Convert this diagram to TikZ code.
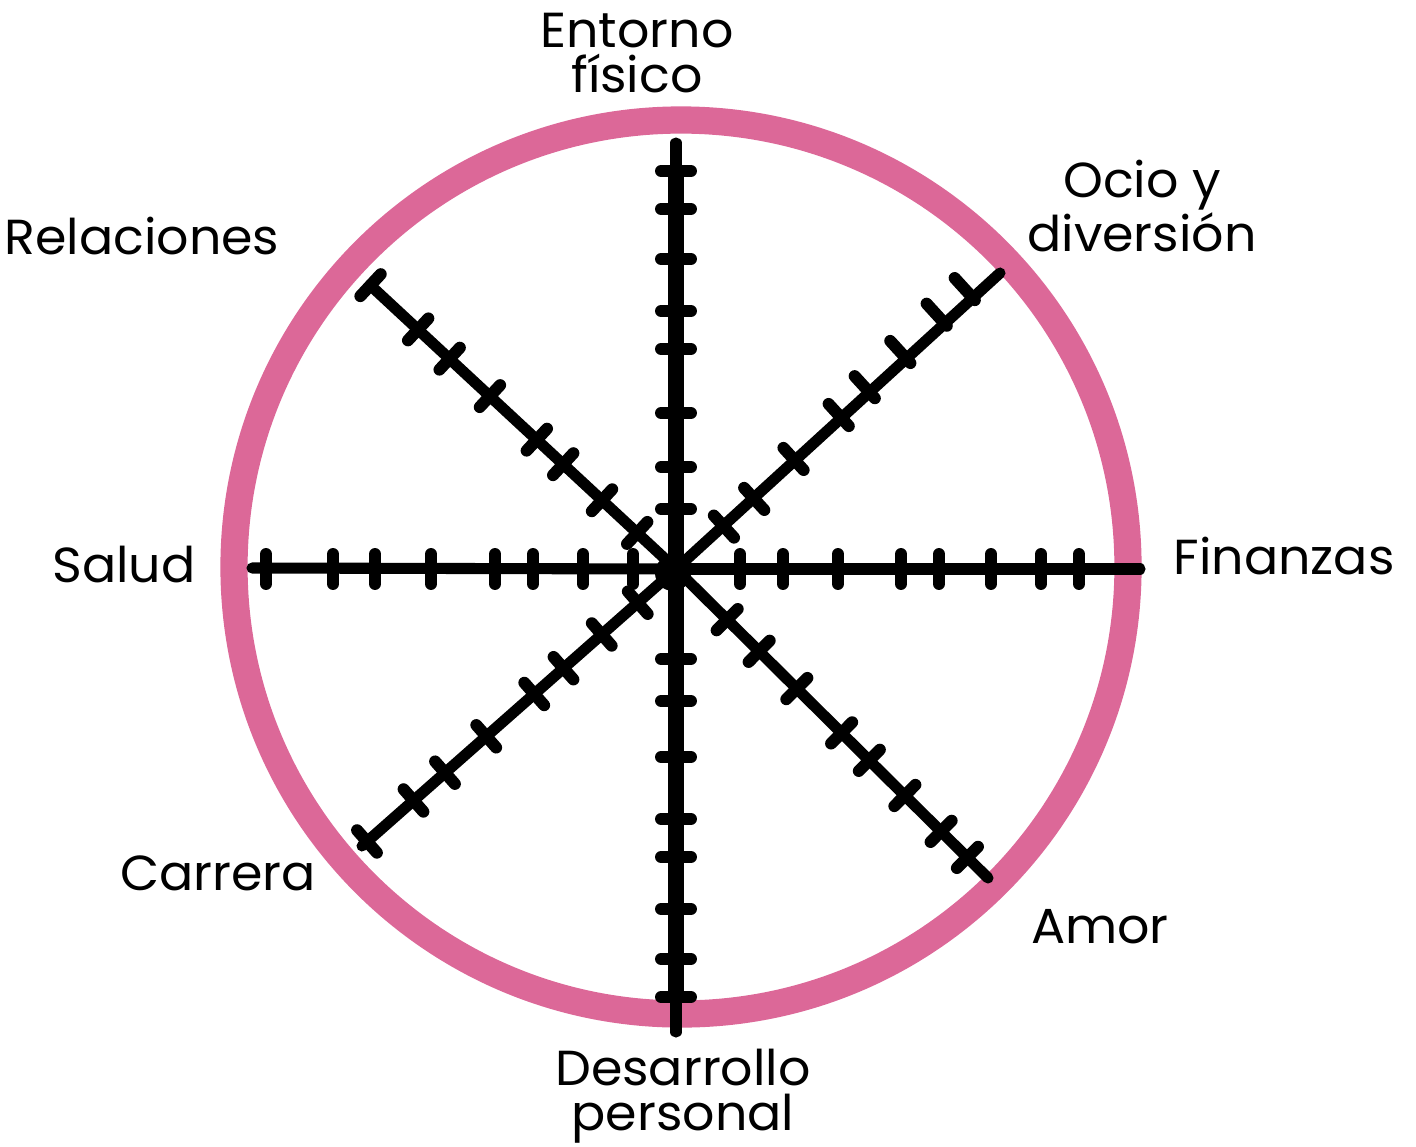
\documentclass[tikz,border=0pt]{standalone}
\usepackage{fontspec}
\setmainfont{Poppins}[FakeStretch=1.03]
\usetikzlibrary{positioning}
\definecolor{wheelpink}{RGB}{220,104,152}

\tikzset{
  ring/.style={draw=wheelpink, line width=15.5pt},
  spokeline/.style={line width=6.3pt, line cap=round},
  heavyline/.style={line width=9.5pt, line cap=round},
  tickmark/.style={line width=6.8pt, line cap=round},
  area/.style={font=\fontsize{28}{25.5}\selectfont, align=center, inner sep=0pt},
}

\begin{document}
\begin{tikzpicture}[x=0.02cm, y=-0.02cm]
    \useasboundingbox (0,0) rectangle (1416,1146);

    % Wheel
    \coordinate (O) at (681,567);
    \draw[ring] (O) circle (447);

    % Centre and spoke ends
    \coordinate (C) at (676,569);
    \coordinate (N) at (676,143);
    \coordinate (NE) at (1000,273);
    \coordinate (E) at (1140,569);
    \coordinate (SE) at (988,878);
    \coordinate (S) at (676,1032);
    \coordinate (SW) at (362,846);
    \coordinate (W) at (252,568);
    \coordinate (NW) at (370,285);

    % Spokes
    \foreach \p in {N,NE,E,SE,S,SW,W,NW}
        \draw[spokeline] (C) -- (\p);

    % Entorno fisico (up)
    \begin{scope}[shift={(C)}, rotate=90]
        \draw[heavyline] (0,0) -- (398,0);
        \foreach \d in {60,102,156,220,258,310,360,398}
            \draw[tickmark] (\d,-15) -- (\d,15);
    \end{scope}

    % Ocio y diversion
    \begin{scope}[shift={(C)}, rotate=42.4]
        \foreach \d/\s in {64/1,105/1,161/-2,224/-4,262/-7,312/-9,364/-12,402/-12}
            \draw[tickmark] (\d,\s-15) -- (\d,\s+15);
    \end{scope}

    % Finanzas
    \begin{scope}[shift={(C)}, rotate=0]
        \foreach \d in {64,107,162,225,263,315,365,403}
            \draw[tickmark] (\d,-15) -- (\d,15);
    \end{scope}

    % Amor
    \begin{scope}[shift={(C)}, rotate=-44.7]
        \foreach \d in {72,117,170,233,272,322,373,410}
            \draw[tickmark] (\d,-15) -- (\d,15);
    \end{scope}

    % Desarrollo personal (down)
    \begin{scope}[shift={(C)}, rotate=-90]
        \draw[heavyline] (0,0) -- (428,0);
        \foreach \d in {90,132,188,250,288,340,390,428}
            \draw[tickmark] (\d,-15) -- (\d,15);
    \end{scope}

    % Carrera
    \begin{scope}[shift={(C)}, rotate=221.4]
        \foreach \d in {51,99,150,189,253,308,350,412}
            \draw[tickmark] (\d,-15) -- (\d,15);
    \end{scope}

    % Salud
    \begin{scope}[shift={(C)}, rotate=180]
        \foreach \d in {43,93,143,181,245,301,343,410}
            \draw[tickmark] (\d,-15) -- (\d,15);
    \end{scope}

    % Relaciones
    \begin{scope}[shift={(C)}, rotate=137.1]
        \foreach \d in {53,101,154,190,254,309,352,417}
            \draw[tickmark] (\d,-15) -- (\d,15);
    \end{scope}

    % Hub
    \fill (673,573) circle (18);

    % Labels
    \node[area] (entorno) at (637,53) {Entorno\\físico};
    \node[area] (ocio) at (1142,206) {Ocio y\\diversión};
    \node[area] (finanzas) at (1284,556) {Finanzas};
    \node[area] (amor) at (1100,927) {Amor};
    \node[area] (desarrollo) at (683,1096) {Desarrollo\\personal};
    \node[area] (carrera) at (218,873) {Carrera};
    \node[area] (salud) at (124,565) {Salud};
    \node[area] (relaciones) at (142,236) {Relaciones};
\end{tikzpicture}
\end{document}
